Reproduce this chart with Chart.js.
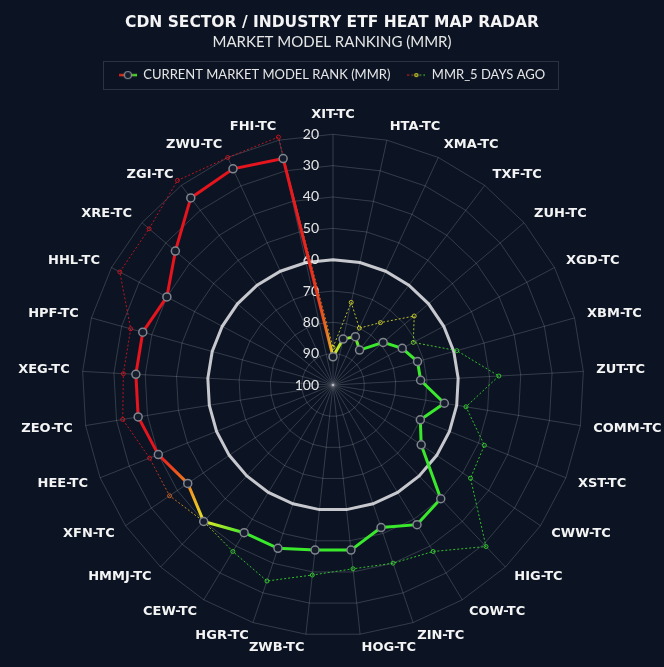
<!DOCTYPE html>
<html>
<head>
<meta charset="utf-8">
<title>CDN Sector / Industry ETF Heat Map Radar</title>
<script src="https://cdn.jsdelivr.net/npm/chart.js@4.4.1/dist/chart.umd.min.js"></script>
<style>
  html, body { margin: 0; padding: 0; background: #0c1424; }
  #wrap { width: 664px; height: 667px; }
</style>
</head>
<body>
<div id="wrap"><canvas id="mmrRadar"></canvas></div>
<script>
// ETFs, clockwise from the top
const etfLabels = [
    "XIT-TC", "HTA-TC", "XMA-TC", "TXF-TC", "ZUH-TC", "XGD-TC", "XBM-TC", "ZUT-TC",
    "COMM-TC", "XST-TC", "CWW-TC", "HIG-TC", "COW-TC", "ZIN-TC", "HOG-TC", "ZWB-TC",
    "HGR-TC", "CEW-TC", "HMMJ-TC", "XFN-TC", "HEE-TC", "ZEO-TC", "XEG-TC", "HPF-TC",
    "HHL-TC", "XRE-TC", "ZGI-TC", "ZWU-TC", "FHI-TC"
];

const currentRank = [
    91, 85, 83, 86, 79, 75, 72, 72,
    64, 70, 66, 50, 48, 52, 47, 47,
    45, 45, 40, 44, 40, 37, 37, 37,
    40, 34, 25, 24, 26
];

const rankFiveDaysAgo = [
    88, 73, 80, 75, 66, 71, 59, 47,
    57, 48, 47, 29, 38, 40, 41, 39,
    34, 38, 40, 37, 37, 32, 33, 33,
    23, 23, 18, 20, 19
];

// heat level of each ETF (0 = cool / green ... 1 = hot / red)
const currentHeat = [
    0.5, 0.3, 0.2, 0, 0, 0, 0, 0,
    0, 0, 0, 0, 0, 0, 0, 0,
    0, 0, 0.5, 0.75, 1, 1, 1, 1,
    1, 1, 1, 1, 1
];

const previousHeat = [
    0.5, 0.5, 0.5, 0.5, 0.5, 0.2, 0, 0,
    0, 0, 0, 0, 0, 0, 0, 0,
    0, 0, 0.5, 0.8, 1, 1, 1, 1,
    1, 1, 1, 1, 1
];

const tickValues = [20, 30, 40, 50, 60, 70, 80, 90, 100];

const heatStops = [
    [0, [58, 232, 44]],
    [0.5, [230, 230, 40]],
    [0.75, [242, 132, 30]],
    [1, [230, 20, 28]]
];

function heatColor(t, alpha) {
    if (alpha === undefined) alpha = 1;
    for (let i = 1; i < heatStops.length; i++) {
        const [t1, c1] = heatStops[i];
        const [t0, c0] = heatStops[i - 1];
        if (t <= t1) {
            const f = (t - t0) / (t1 - t0);
            const c = c0.map((v, k) => Math.round(v + (c1[k] - v) * f));
            return `rgba(${c[0]}, ${c[1]}, ${c[2]}, ${alpha})`;
        }
    }
    const c = heatStops[heatStops.length - 1][1];
    return `rgba(${c[0]}, ${c[1]}, ${c[2]}, ${alpha})`;
}

// radar lines don't take segment styles, so colour them with a conic
// gradient that passes through each ETF's heat colour at its spoke
function heatRing(heat, alpha) {
    return function (ctx) {
        const s = ctx.chart.scales.r;
        if (!s || s.xCenter === undefined) return heatColor(0, alpha);
        const g = ctx.chart.ctx.createConicGradient(-Math.PI / 2, s.xCenter, s.yCenter);
        heat.forEach((h, i) => g.addColorStop(i / heat.length, heatColor(h, alpha)));
        g.addColorStop(1, heatColor(heat[0], alpha));
        return g;
    };
}

function legendSample(dashed) {
    const c = document.createElement("canvas");
    c.width = 18;
    c.height = 10;
    const x = c.getContext("2d");
    const g = x.createLinearGradient(0, 0, 18, 0);
    g.addColorStop(0, heatColor(1));
    g.addColorStop(1, heatColor(0));
    x.strokeStyle = g;
    x.lineWidth = dashed ? 1 : 2.5;
    if (dashed) x.setLineDash([2, 2]);
    x.beginPath();
    x.moveTo(0, 5);
    x.lineTo(18, 5);
    x.stroke();
    x.setLineDash([]);
    x.beginPath();
    x.arc(9, 5, dashed ? 1.5 : 3.5, 0, Math.PI * 2);
    x.fillStyle = "#141b2a";
    x.fill();
    x.lineWidth = 1.2;
    x.strokeStyle = dashed ? heatColor(0.5) : "#8a8f98";
    x.stroke();
    return c;
}

const legendSamples = [legendSample(false), legendSample(true)];

// frame around the legend row
const legendFrame = {
    id: "legendFrame",
    afterDraw(chart) {
        const boxes = chart.legend.legendHitBoxes;
        if (!boxes || !boxes.length) return;
        const left = Math.min(...boxes.map(b => b.left)) - 16;
        const right = Math.max(...boxes.map(b => b.left + b.width)) + 13;
        const mid = boxes[0].top + boxes[0].height / 2;
        const ctx = chart.ctx;
        ctx.save();
        ctx.strokeStyle = "#2b3342";
        ctx.lineWidth = 1;
        ctx.strokeRect(Math.round(left) + 0.5, Math.round(mid - 14) + 0.5, Math.round(right - left), 28);
        ctx.restore();
    }
};

// rank labels sit just left of the vertical axis
const rankTicks = {
    id: "rankTicks",
    beforeDatasetsDraw(chart) {
        const s = chart.scales.r;
        const ctx = chart.ctx;
        ctx.save();
        ctx.font = "14px Lato";
        ctx.fillStyle = "#e6e6e6";
        ctx.textAlign = "right";
        ctx.textBaseline = "middle";
        tickValues.forEach(v => {
            ctx.fillText(String(v), s.xCenter - 14, s.yCenter - s.getDistanceFromCenterForValue(v));
        });
        ctx.restore();
    }
};

const gridGray = "rgba(255, 255, 255, 0.17)";

new Chart(document.getElementById("mmrRadar"), {
    type: "radar",
    data: {
        labels: etfLabels,
        datasets: [{
            label: "CURRENT MARKET MODEL RANK (MMR)",
            data: currentRank,
            fill: false,
            borderWidth: 3,
            borderColor: heatRing(currentHeat, 1),
            pointRadius: 4,
            pointBorderWidth: 1.5,
            pointBorderColor: "#80858e",
            pointBackgroundColor: "#141b2a"
        }, {
            label: "MMR_5 DAYS AGO",
            data: rankFiveDaysAgo,
            fill: false,
            borderWidth: 1,
            borderDash: [2, 2],
            borderColor: heatRing(previousHeat, 0.8),
            pointRadius: 2,
            pointBorderWidth: 1,
            pointBorderColor: ctx => heatColor(previousHeat[ctx.dataIndex], 0.8),
            pointBackgroundColor: "rgba(0, 0, 0, 0)"
        }]
    },
    options: {
        responsive: true,
        maintainAspectRatio: false,
        animation: false,
        plugins: {
            title: {
                display: true,
                text: "CDN SECTOR / INDUSTRY ETF HEAT MAP RADAR",
                color: "#f4f4f4",
                font: { family: "DejaVu Sans", size: 15.5, weight: "bold" },
                padding: { top: 14, bottom: 0 }
            },
            subtitle: {
                display: true,
                text: "MARKET MODEL RANKING (MMR)",
                color: "#e6e6e6",
                font: { family: "Lato", size: 15 },
                padding: { top: 1, bottom: 0 }
            },
            legend: {
                labels: {
                    usePointStyle: true,
                    pointStyleWidth: 18,
                    padding: 17,
                    color: "#e6e6e6",
                    font: { family: "Lato", size: 13 },
                    generateLabels(chart) {
                        return Chart.defaults.plugins.legend.labels.generateLabels(chart).map((item, i) => {
                            item.pointStyle = legendSamples[i];
                            return item;
                        });
                    }
                }
            },
            tooltip: { enabled: false }
        },
        scales: {
            r: {
                min: 20,
                max: 100,
                reverse: true,
                // box the web is fitted into: a gap under the legend,
                // side labels allowed to run to the canvas edge
                afterSetDimensions: scale => {
                    Object.assign(scale, { left: -18, right: 684, top: 111, bottom: 653 });
                    scale.xCenter = Math.floor((scale.left + scale.right) / 2);
                    scale.yCenter = Math.floor((scale.top + scale.bottom) / 2);
                    scale.drawingArea = Math.floor(Math.min(scale.right - scale.left, scale.bottom - scale.top) / 2);
                },
                // the outermost ring is skipped by Chart.js, so repeat it once
                afterBuildTicks: scale => {
                    scale.ticks = [tickValues[0]].concat(tickValues).map(v => ({ value: v }));
                },
                ticks: { display: false },
                grid: {
                    color: ctx => ctx.tick && ctx.tick.value === 60 ? "#c6c8cd" : gridGray,
                    lineWidth: ctx => ctx.tick && ctx.tick.value === 60 ? 3 : 1
                },
                angleLines: { color: gridGray },
                pointLabels: {
                    color: "#f4f4f4",
                    // labels sit centred on their spoke; the top one clears the rank numbers
                    padding: ctx => ctx.index === 0 ? 19 : 13,
                    font: { family: "DejaVu Sans", size: 13, weight: "bold", lineHeight: 0.1 }
                }
            }
        }
    },
    plugins: [legendFrame, rankTicks]
});
</script>
</body>
</html>
